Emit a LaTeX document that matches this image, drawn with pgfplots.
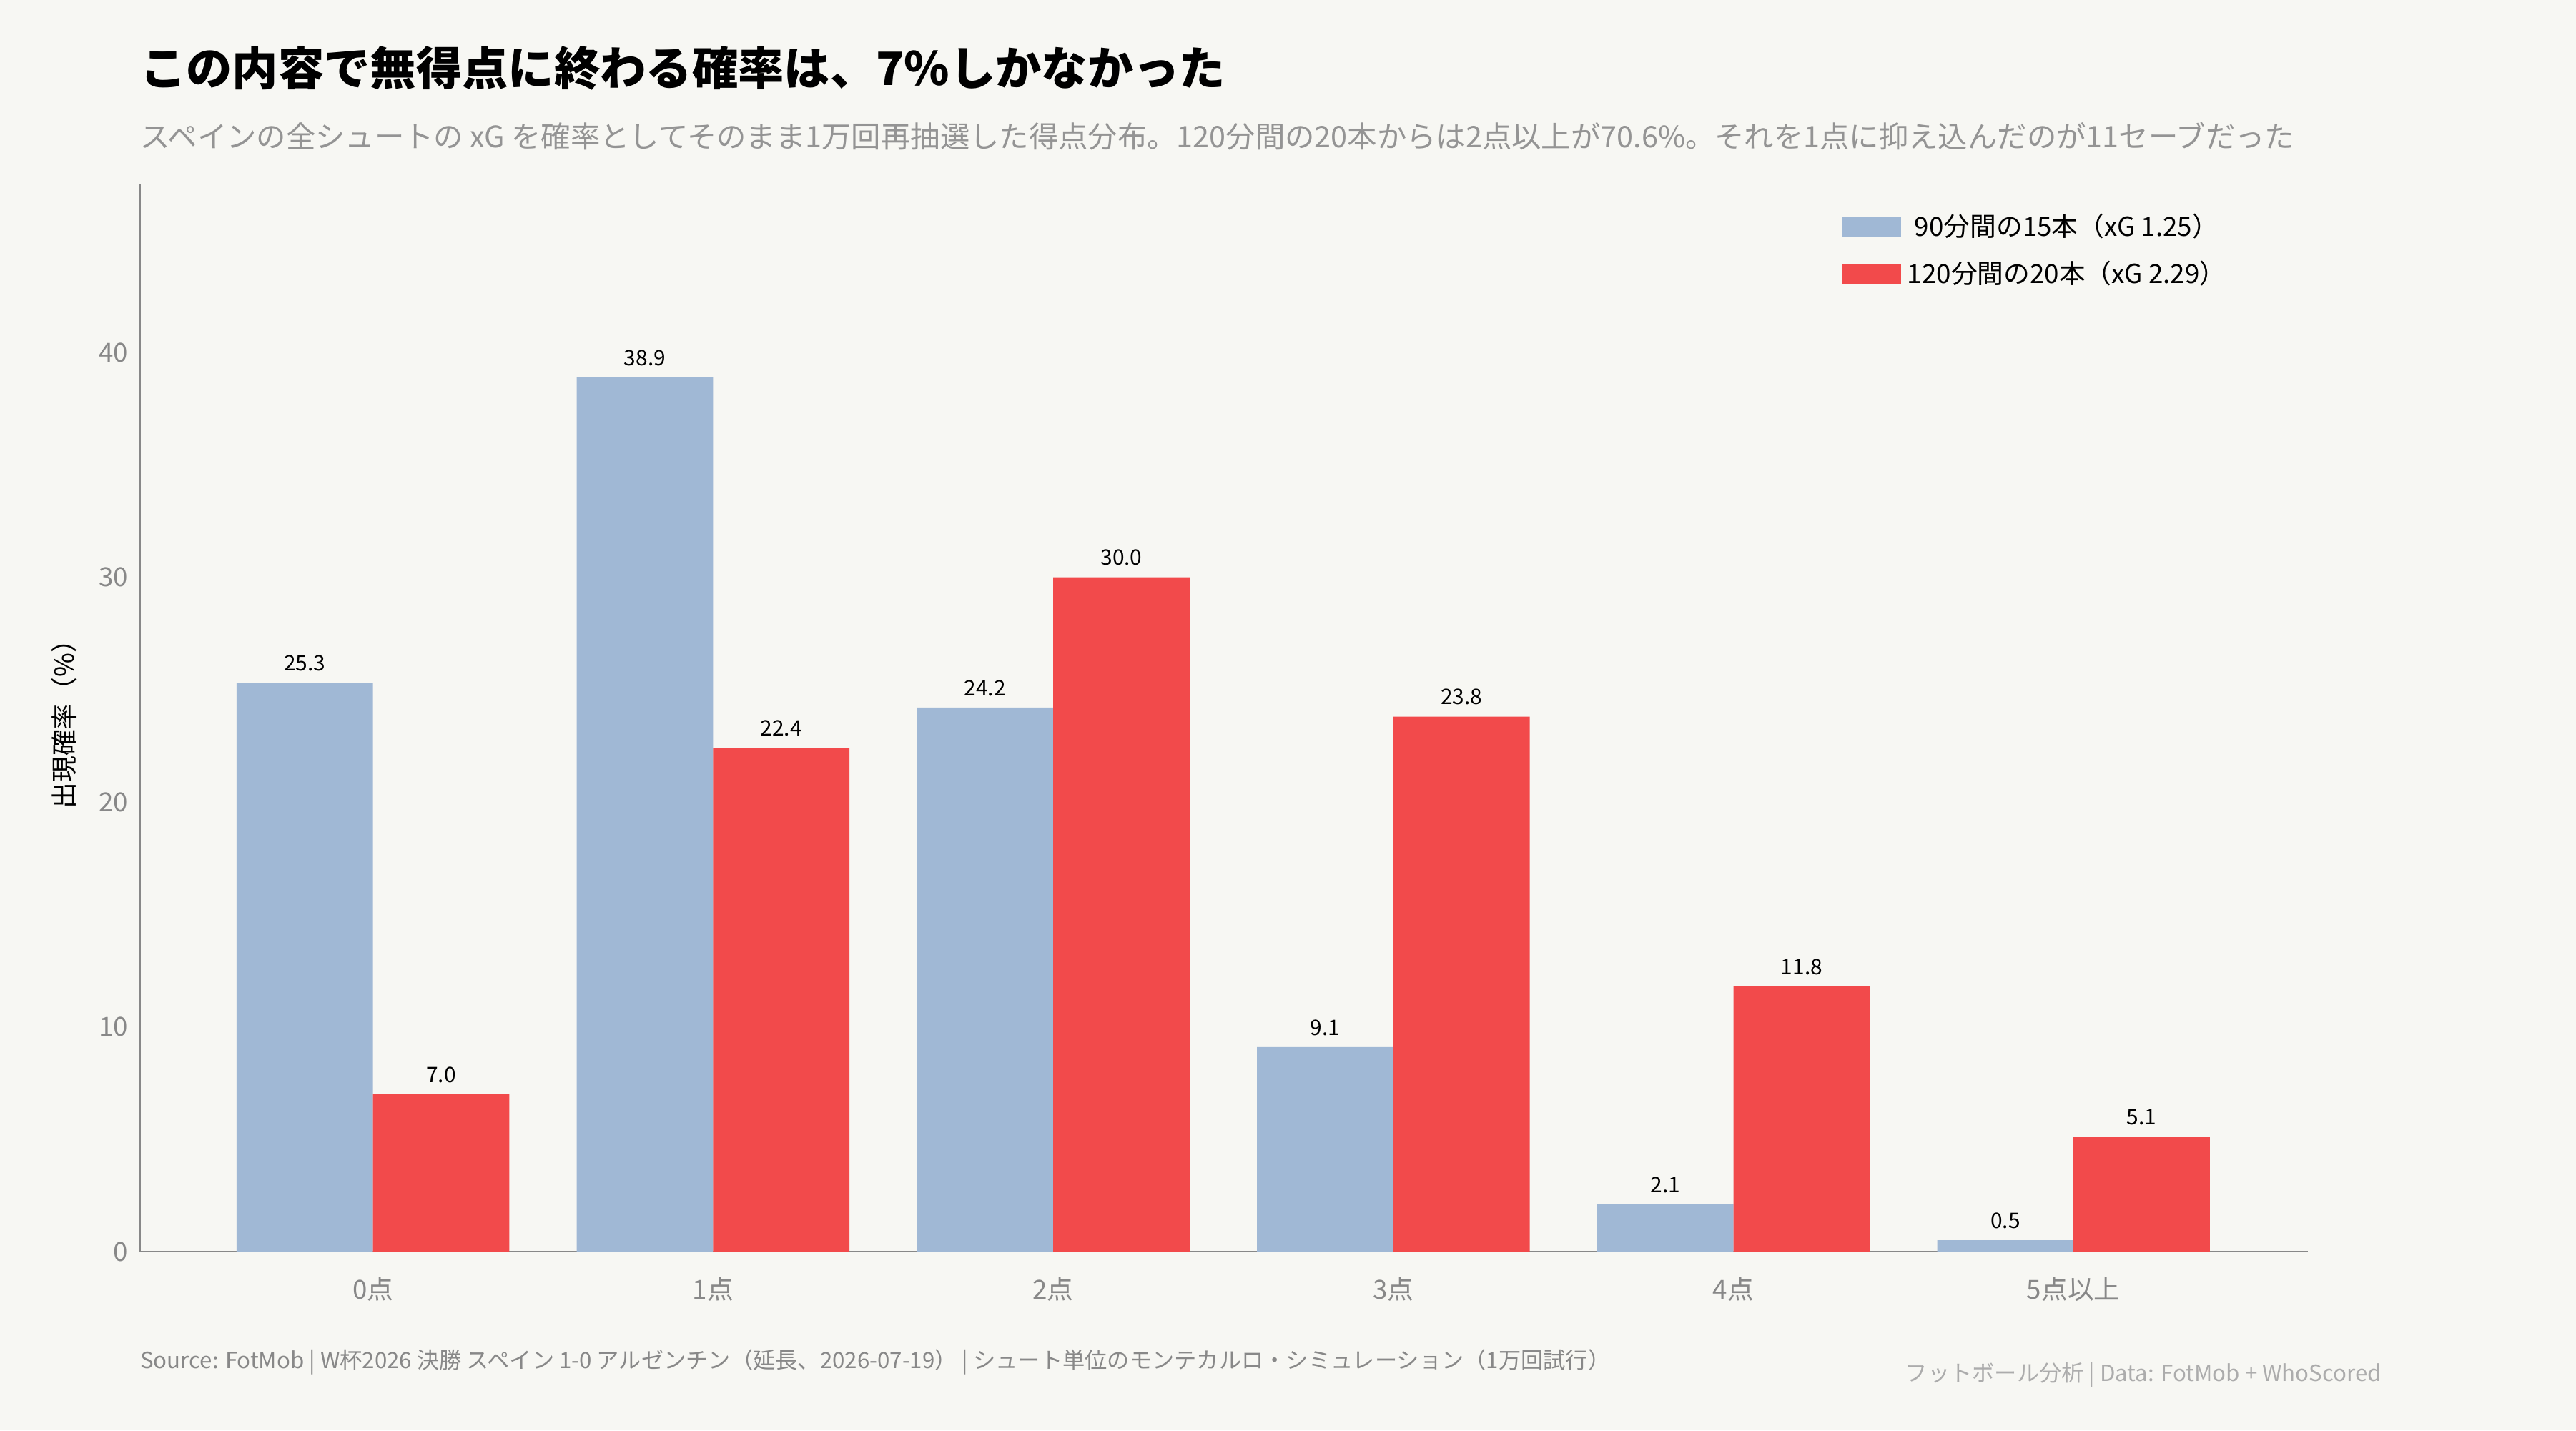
\documentclass[border=0pt]{standalone}
\usepackage{fontspec}
\setmainfont{Noto Sans CJK JP}
\usepackage{pgfplots}
\pgfplotsset{compat=1.18}
\definecolor{bg}{HTML}{F7F7F3}
\definecolor{cblue}{HTML}{A0B8D5}
\definecolor{cred}{HTML}{F24A4B}
\definecolor{tgray}{HTML}{888888}
\begin{document}
\begin{tikzpicture}
\fill[bg] (-42.5pt,-54.5pt) rectangle (741.5pt,381pt);
\useasboundingbox (-42.5pt,-54.5pt) rectangle (741.5pt,381pt);
\begin{axis}[at={(0,0)},anchor=south west,scale only axis,
 width=660pt,height=325pt,
 ybar,bar width=41.5pt,
 xmin=-0.686,xmax=5.69,ymin=0,ymax=47.5,
 xtick={0,...,5},xticklabels={0点,1点,2点,3点,4点,5点以上},
 ytick={0,10,20,30,40},
 axis x line*=bottom,axis y line*=left,
 axis line style={tgray,line width=0.6pt},
 tick style={draw=none},
 tick label style={font=\fontsize{8}{9}\selectfont,text=tgray},
 /pgf/number format/assume math mode=true,
 ylabel={出現確率（\%）},ylabel style={font=\fontsize{8}{9}\selectfont},
 nodes near coords,
 every node near coord/.append style={font=\fontsize{6.5}{7}\selectfont,text=black},
 nodes near coords style={/pgf/number format/.cd,fixed,fixed zerofill,precision=1},
 legend style={at={(0.78,0.985)},anchor=north west,draw=none,fill=none,
   font=\fontsize{8}{9}\selectfont,row sep=2pt},
 legend image code/.code={\fill[#1] (0pt,-3pt) rectangle (18pt,3pt);},
]
\addplot[fill=cblue,draw=none,bar shift=-20.75pt] coordinates {(0,25.3)(1,38.9)(2,24.2)(3,9.1)(4,2.1)(5,0.5)};
\addplot[fill=cred,draw=none,bar shift=20.75pt] coordinates {(0,7.0)(1,22.4)(2,30.0)(3,23.8)(4,11.8)(5,5.1)};
\legend{90分間の15本（xG 1.25）,120分間の20本（xG 2.29）}
\end{axis}
\node[anchor=base west,font=\fontsize{14}{16}\bfseries\selectfont,inner sep=0] at (0,355pt) {この内容で無得点に終わる確率は、7\%しかなかった};
\node[anchor=base west,font=\fontsize{9}{11}\selectfont,text=tgray!90,inner sep=0] at (0,336pt) {スペインの全シュートの xG を確率としてそのまま1万回再抽選した得点分布。120分間の20本からは2点以上が70.6\%。それを1点に抑え込んだのが11セーブだった};
\node[anchor=base west,font=\fontsize{6.8}{8}\selectfont,text=tgray,inner sep=0] at (0,-35.5pt) {Source: FotMob | W杯2026 決勝 スペイン 1-0 アルゼンチン（延長、2026-07-19） | シュート単位のモンテカルロ・シミュレーション（1万回試行）};
\node[anchor=base east,font=\fontsize{6.8}{8}\selectfont,text=tgray!70,inner sep=0] at (682.5pt,-39.5pt) {フットボール分析 | Data: FotMob + WhoScored};
\end{tikzpicture}
\end{document}
